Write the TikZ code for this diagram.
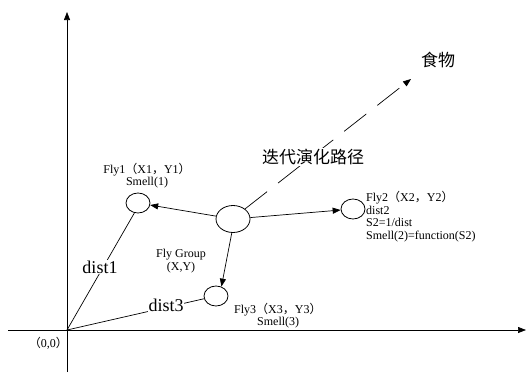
\documentclass[tikz,border=0pt]{standalone}
\usepackage{fontspec}
\setmainfont{Liberation Serif}
\newfontfamily\cjk{Noto Sans CJK SC}
\usetikzlibrary{shapes.geometric,arrows.meta}
\newcommand\fw[1]{{\cjk #1}}
\tikzset{
  fly/.style={draw, ellipse, inner sep=0pt, minimum width=24pt, minimum height=20pt, line width=0.8pt},
  grp/.style={draw, ellipse, inner sep=0pt, minimum width=34pt, minimum height=27pt, line width=0.8pt},
  small/.style={font=\fontsize{12}{12.7}\selectfont, inner sep=0pt},
  big/.style={font=\fontsize{18}{20}\selectfont, inner sep=0.5pt, fill=white},
  cn/.style={font=\cjk\fontsize{17}{19}\selectfont, inner sep=1pt},
  tip/.style={-{Triangle[length=8pt,width=6pt]}},
  conn/.style={line width=0.7pt},
}
\begin{document}
\begin{tikzpicture}[x=1pt,y=-1pt]
\useasboundingbox (0,0) rectangle (526,372);
% axes
\coordinate (ybot) at (67,372);
\coordinate (ytop) at (67,12);
\coordinate (xl) at (8,330);
\coordinate (xr) at (526,330);
\coordinate (O) at (67,330);
\draw[conn,tip] (ybot) -- (ytop);
\draw[conn,tip] (xl) -- (xr);
\node[small, anchor=east] (olab) at (68,343) {\fw{（}0,0\fw{）}};
% ellipses
\node[grp] (g) at (233,219) {};
\node[fly] (f1) at (138,203) {};
\node[fly] (f2) at (353,209) {};
\node[fly] (f3) at (216,296) {};
% arrows from group
\draw[conn,tip] (g) -- (f1);
\draw[conn,tip] (g) -- (f2);
\draw[conn,tip] (g.-95) -- (f3.60);
% distances
\draw[conn] (O) -- (f1.250);
\draw[conn] (O) -- (f3);
\node[big] (d1) at (100,267) {dist1};
\node[big] (d3) at (166,305) {dist3};
% path to food
\coordinate (food) at (411,79);
\draw[conn,tip,dash pattern=on 28pt off 14pt] (g.40) -- (food);
\node[cn, fill=white] (path) at (313,157) {迭代演化路径};
\node[cn] (foodlab) at (438,60) {食物};
% labels
\node[small] (l1a) at (147,170) {Fly1\fw{（}X1\fw{，}Y1\fw{）}};
\node[small] (l1b) at (147,183) {Smell(1)};
\node[small] (lg1) at (181,255) {Fly Group};
\node[small] (lg2) at (181,268) {(X,Y)};
\node[small, anchor=west] (l3a) at (234,310) {Fly3\fw{（}X3\fw{，}Y3\fw{）}};
\node[small, anchor=west] (l3b) at (257,323) {Smell(3)};
\node[small, anchor=north west, align=left] (l2) at (366,191) {Fly2\fw{（}X2\fw{，}Y2\fw{）}\\dist2\\S2=1/dist\\Smell(2)=function(S2)};
\end{tikzpicture}
\end{document}
